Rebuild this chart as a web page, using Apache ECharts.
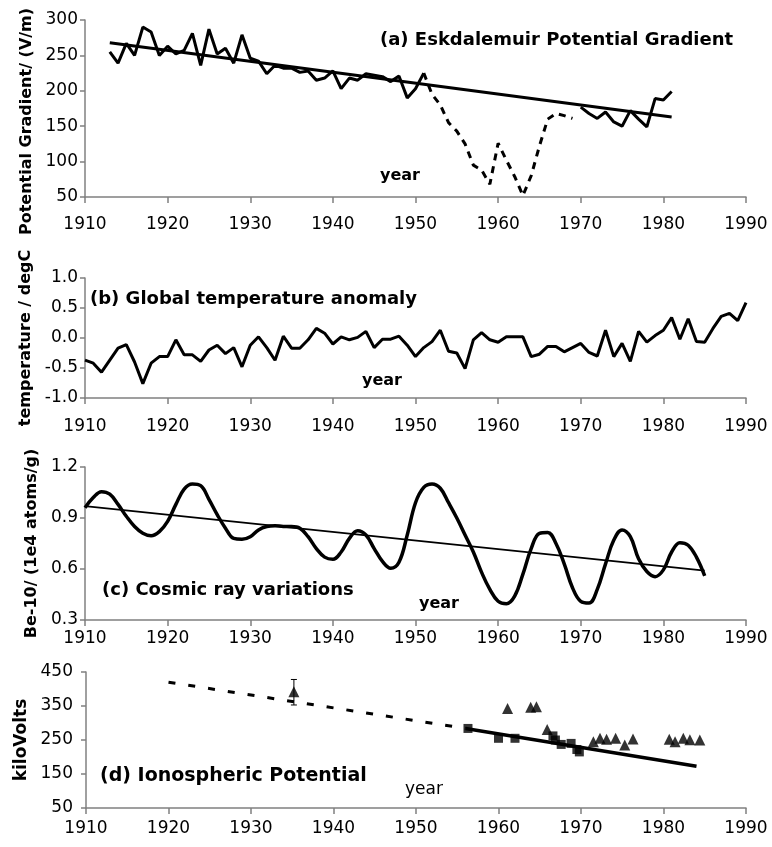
<!DOCTYPE html>
<html>
<head>
<meta charset="utf-8">
<script src="https://cdn.jsdelivr.net/npm/echarts@6.0.0/dist/echarts.min.js"></script>
<style>
html,body{margin:0;padding:0;background:#fff;}
#chart{width:772px;height:847px;}
</style>
</head>
<body>
<div id="chart"></div>
<script>
// ---------- data ----------
const xTicks = [1910, 1920, 1930, 1940, 1950, 1960, 1970, 1980, 1990];

// (a) Eskdalemuir potential gradient (V/m)
const pgStart1 = 1913;
const pgSolid1 = [255, 239, 267, 250, 290, 283, 250, 263, 252, 257, 281, 236, 287, 252, 260, 239, 279, 246, 242, 224,
  236, 232, 232, 226, 228, 215, 218, 228, 203, 218, 215, 224, 222, 220, 213, 221, 190, 203, 225];
const pgStartDash = 1951;
const pgDashed = [225, 195, 180, 155, 143, 125, 95, 88, 68, 126, 102, 79, 52, 80, 122, 160, 168, 165, 161];
const pgStart2 = 1970;
const pgSolid2 = [177, 168, 161, 170, 156, 150, 172, 160, 149, 189, 187, 199];
const pgTrend = [[1913, 268], [1981, 163]];

// (b) Global temperature anomaly (degC), 1910-1990
const tempStart = 1910;
const tempVals = [-0.37, -0.42, -0.57, -0.37, -0.17, -0.11, -0.40, -0.76, -0.42, -0.31,
  -0.31, -0.03, -0.28, -0.28, -0.39, -0.20, -0.12, -0.26, -0.16, -0.48,
  -0.12, 0.02, -0.16, -0.37, 0.03, -0.17, -0.17, -0.03, 0.16, 0.08,
  -0.10, 0.02, -0.03, 0.01, 0.11, -0.16, -0.02, -0.02, 0.03, -0.12,
  -0.31, -0.16, -0.06, 0.13, -0.22, -0.25, -0.51, -0.03, 0.09, -0.03,
  -0.07, 0.02, 0.02, 0.02, -0.31, -0.27, -0.14, -0.14, -0.23, -0.16,
  -0.09, -0.24, -0.30, 0.13, -0.31, -0.09, -0.39, 0.11, -0.07, 0.04,
  0.13, 0.34, -0.02, 0.32, -0.06, -0.07, 0.16, 0.36, 0.41, 0.29, 0.59];

// (c) Be-10 cosmic ray proxy (1e4 atoms/g), 1910-1985
const beStart = 1910;
const beVals = [0.96, 1.02, 1.055, 1.04, 0.98, 0.91, 0.85, 0.81, 0.795, 0.82,
  0.88, 0.98, 1.07, 1.10, 1.09, 1.01, 0.92, 0.84, 0.78, 0.775,
  0.79, 0.83, 0.85, 0.855, 0.85, 0.85, 0.84, 0.79, 0.72, 0.67,
  0.657, 0.70, 0.78, 0.825, 0.80, 0.72, 0.645, 0.605, 0.64, 0.80,
  0.99, 1.08, 1.10, 1.075, 0.99, 0.90, 0.80, 0.70, 0.58, 0.48,
  0.41, 0.395, 0.44, 0.57, 0.72, 0.81, 0.815, 0.75, 0.63, 0.49,
  0.41, 0.40, 0.48, 0.63, 0.77, 0.83, 0.79, 0.66, 0.585, 0.555,
  0.595, 0.70, 0.755, 0.74, 0.67, 0.56];
const beTrend = [[1910, 0.97], [1985, 0.59]];

// (d) Ionospheric potential (kV)
const ipDashTrend = [[1920, 420], [1956, 284]];
const ipSolidTrend = [[1956, 284], [1984, 173]];
const ipTriangles = [[1935.2, 392], [1961.1, 343], [1963.9, 346], [1964.6, 348], [1965.9, 281], [1971.5, 245],
  [1972.3, 255], [1973.1, 252], [1974.2, 255], [1975.3, 235], [1976.3, 253], [1980.7, 252], [1981.4, 245],
  [1982.4, 255], [1983.2, 251], [1984.4, 250]];
const ipSquares = [[1956.3, 284], [1960.0, 255], [1962.0, 255], [1966.6, 262], [1966.9, 250], [1967.6, 237],
  [1968.8, 240], [1969.5, 222], [1969.8, 215]];
const ipErrorBar = [[1935.2, 353, 428]];

// ---------- helpers ----------
function series(start, vals) { return vals.map((v, i) => [start + i, v]); }

const FONT = "'DejaVu Sans', 'Liberation Sans', Arial, sans-serif";
const AXIS_GRAY = '#808080';

function xAxis(gi, margin) {
  return {
    type: 'value', gridIndex: gi, min: xTicks[0], max: xTicks[xTicks.length - 1], interval: 10,
    axisLine: { show: true, onZero: false, lineStyle: { color: AXIS_GRAY, width: 1.5 } },
    axisTick: { show: true, length: 6, inside: false, lineStyle: { color: AXIS_GRAY, width: 1.5 } },
    axisLabel: { color: '#000', fontSize: 17, fontFamily: FONT, margin: margin, showMinLabel: true, showMaxLabel: true,
      formatter: v => String(v) },
    splitLine: { show: false }
  };
}
function yAxis(gi, min, max, interval, name, gap, nameSize, labelMargin, fmt, namePad) {
  return {
    type: 'value', gridIndex: gi, min: min, max: max, interval: interval,
    name: name, nameLocation: 'middle', nameGap: gap, nameRotate: 90,
    nameTextStyle: { color: '#000', fontSize: nameSize, fontWeight: 'bold', fontFamily: FONT, padding: namePad || 0 },
    axisLine: { show: true, lineStyle: { color: AXIS_GRAY, width: 1.5 } },
    axisTick: { show: true, length: 5, lineStyle: { color: AXIS_GRAY, width: 1.5 } },
    axisLabel: { color: '#000', fontSize: 17, fontFamily: FONT, margin: labelMargin, formatter: fmt || (v => String(v)) },
    splitLine: { show: false }
  };
}
function txt(left, top, text, size, weight) {
  return { type: 'text', left: left, top: top, style: { text: text, fill: '#000', font: weight + ' ' + size + 'px ' + FONT } };
}

const lineBase = { type: 'line', showSymbol: false, symbol: 'none', animation: false, z: 3 };
const gridBase = { left: 85, right: 26, outerBoundsMode: 'none', containLabel: false };

const option = {
  animation: false,
  backgroundColor: '#fff',
  grid: [
    Object.assign({}, gridBase, { top: 20, height: 177 }),
    Object.assign({}, gridBase, { top: 278, height: 120 }),
    Object.assign({}, gridBase, { top: 467, height: 153 }),
    Object.assign({}, gridBase, { left: 86, top: 672, height: 136 })
  ],
  xAxis: [xAxis(0, 19), xAxis(1, 20), xAxis(2, 10), xAxis(3, 12)],
  yAxis: [
    yAxis(0, 50, 300, 50, 'Potential Gradient/ (V/m)', 48, 16, 7, null, [0, 26, 0, 0]),
    yAxis(1, -1, 1, 0.5, 'temperature / degC', 49, 16, 7, v => v.toFixed(1)),
    yAxis(2, 0.3, 1.2, 0.3, 'Be-10/ (1e4 atoms/g)', 43, 16, 7, v => v.toFixed(1)),
    yAxis(3, 50, 450, 100, 'kiloVolts', 53, 17, 13)
  ],
  series: [
    Object.assign({}, lineBase, { xAxisIndex: 0, yAxisIndex: 0, data: series(pgStart1, pgSolid1),
      lineStyle: { color: '#000', width: 3 } }),
    Object.assign({}, lineBase, { xAxisIndex: 0, yAxisIndex: 0, data: series(pgStartDash, pgDashed),
      lineStyle: { color: '#000', width: 3, type: [7, 6] } }),
    Object.assign({}, lineBase, { xAxisIndex: 0, yAxisIndex: 0, data: series(pgStart2, pgSolid2),
      lineStyle: { color: '#000', width: 3 } }),
    Object.assign({}, lineBase, { xAxisIndex: 0, yAxisIndex: 0, data: pgTrend,
      lineStyle: { color: '#000', width: 3 } }),

    Object.assign({}, lineBase, { xAxisIndex: 1, yAxisIndex: 1, data: series(tempStart, tempVals),
      lineStyle: { color: '#000', width: 3 } }),

    Object.assign({}, lineBase, { xAxisIndex: 2, yAxisIndex: 2, data: series(beStart, beVals), smooth: 0.4,
      lineStyle: { color: '#000', width: 3.5 } }),
    Object.assign({}, lineBase, { xAxisIndex: 2, yAxisIndex: 2, data: beTrend,
      lineStyle: { color: '#000', width: 1.8 } }),

    Object.assign({}, lineBase, { xAxisIndex: 3, yAxisIndex: 3, data: ipDashTrend,
      lineStyle: { color: '#000', width: 3, type: [7, 13] } }),
    Object.assign({}, lineBase, { xAxisIndex: 3, yAxisIndex: 3, data: ipSolidTrend,
      lineStyle: { color: '#000', width: 3.5 } }),
    { type: 'scatter', xAxisIndex: 3, yAxisIndex: 3, data: ipSquares, symbol: 'rect', symbolSize: 9,
      itemStyle: { color: '#000' }, z: 4 },
    { type: 'scatter', xAxisIndex: 3, yAxisIndex: 3, data: ipTriangles, symbol: 'triangle', symbolSize: 11,
      itemStyle: { color: '#000' }, z: 4 },
    { type: 'custom', xAxisIndex: 3, yAxisIndex: 3, data: ipErrorBar, z: 4,
      renderItem: function (params, api) {
        const x = api.value(0);
        const lo = api.coord([x, api.value(1)]);
        const hi = api.coord([x, api.value(2)]);
        const st = { stroke: '#000', lineWidth: 1 };
        return { type: 'group', children: [
          { type: 'line', shape: { x1: lo[0], y1: lo[1], x2: hi[0], y2: hi[1] }, style: st },
          { type: 'line', shape: { x1: lo[0] - 3, y1: lo[1], x2: lo[0] + 3, y2: lo[1] }, style: st },
          { type: 'line', shape: { x1: hi[0] - 3, y1: hi[1], x2: hi[0] + 3, y2: hi[1] }, style: st }
        ] };
      } }
  ],
  graphic: [
    txt(380, 31, '(a) Eskdalemuir Potential Gradient', 18, 'bold'),
    txt(380, 168, 'year', 16, 'bold'),
    txt(90, 290, '(b) Global temperature anomaly', 18, 'bold'),
    txt(362, 373, 'year', 16, 'bold'),
    txt(102, 581, '(c) Cosmic ray variations', 18, 'bold'),
    txt(419, 596, 'year', 16, 'bold'),
    txt(100, 767, '(d) Ionospheric Potential', 19, 'bold'),
    txt(405, 781, 'year', 17, 'normal')
  ]
};

const chart = echarts.init(document.getElementById('chart'), null, { renderer: 'canvas' });
chart.setOption(option);
</script>
</body>
</html>
